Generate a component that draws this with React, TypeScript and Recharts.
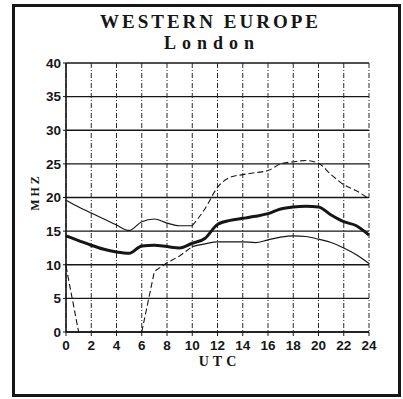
import React from 'react';
import { LineChart, Line, XAxis, YAxis, CartesianGrid } from 'recharts';

const hours = [0, 1, 2, 3, 4, 5, 6, 7, 8, 9, 10, 11, 12, 13, 14, 15, 16, 17, 18, 19, 20, 21, 22, 23, 24];
const xTicks = [0, 2, 4, 6, 8, 10, 12, 14, 16, 18, 20, 22, 24];
const yTicks = [0, 5, 10, 15, 20, 25, 30, 35, 40];

// upper curve: solid part, then dashed part
const upperSolid = [19.6, 18.6, 17.7, 16.8, 15.9, 15.1, 16.4, 16.8, 16.2, 15.8, 15.8, null, null, null, null, null, null, null, null, null, null, null, null, null, null];
const upperDashed = [null, null, null, null, null, null, null, null, null, null, 15.8, 18.3, 21.5, 23.0, 23.4, 23.7, 24.0, 25.0, 25.3, 25.5, 25.1, 23.4, 21.9, 21.0, 19.8];

// main (thick) curve
const middle = [14.3, 13.6, 12.9, 12.3, 11.9, 11.7, 12.8, 12.9, 12.7, 12.5, 13.2, 13.9, 16.0, 16.6, 16.9, 17.2, 17.6, 18.3, 18.6, 18.7, 18.6, 17.4, 16.4, 15.8, 14.4];

// lower curve: dashed pieces, then solid part
const lowerDashed = [9.8, 0, null, null, null, null, 0, 9.0, 10.3, 11.3, 12.7, null, null, null, null, null, null, null, null, null, null, null, null, null, null];
const lowerSolid = [null, null, null, null, null, null, null, null, null, null, 12.7, 13.1, 13.4, 13.4, 13.4, 13.3, 13.7, 14.1, 14.3, 14.2, 13.8, 13.3, 12.5, 11.5, 10.2];

const data = hours.map((h, i) => ({
  h,
  upperSolid: upperSolid[i],
  upperDashed: upperDashed[i],
  middle: middle[i],
  lowerDashed: lowerDashed[i],
  lowerSolid: lowerSolid[i],
}));

const INK = '#161616';
const tickStyle = { fontFamily: '"Liberation Sans", Arial, sans-serif', fontWeight: 700, fontSize: 13.5, fill: INK };
const serif = '"Liberation Serif", "DejaVu Serif", serif';

export default function App() {
  return (
    <div style={{ position: 'absolute', left: 0, top: 0, width: 403, height: 399, background: '#fff' }}>
      <div style={{ position: 'absolute', left: 12, top: 4, width: 383, height: 387, border: `3px solid ${INK}` }} />
      <div style={{ position: 'absolute', left: 0, top: 13, width: 421, textAlign: 'center', fontFamily: serif, fontWeight: 700, fontSize: 19, letterSpacing: 3, color: INK, lineHeight: '18px' }}>
        WESTERN EUROPE
      </div>
      <div style={{ position: 'absolute', left: 0, top: 35, width: 424, textAlign: 'center', fontFamily: serif, fontWeight: 700, fontSize: 18, letterSpacing: 6, color: INK, lineHeight: '16px' }}>
        London
      </div>
      <div style={{ position: 'absolute', left: 0, top: 354, width: 439, textAlign: 'center', fontFamily: serif, fontWeight: 700, fontSize: 14, letterSpacing: 4, color: INK, lineHeight: '16px' }}>
        UTC
      </div>
      <div style={{ position: 'absolute', left: 33, top: 192, width: 0, height: 0 }}>
        <div style={{ position: 'absolute', left: -30, top: -7, width: 63, textAlign: 'center', transform: 'rotate(-90deg)', fontFamily: serif, fontWeight: 700, fontSize: 12, letterSpacing: 3, color: INK, lineHeight: '14px' }}>
          MHZ
        </div>
      </div>
      <LineChart width={403} height={399} data={data} margin={{ top: 63, right: 34, bottom: 37, left: 0 }} style={{ position: 'absolute', left: 0, top: 0 }}>
        <CartesianGrid horizontal={true} vertical={false} stroke={INK} strokeWidth={1.4} />
        <CartesianGrid horizontal={false} vertical={true} stroke="#2a2a2a" strokeWidth={1} strokeDasharray="5 2 1 2" />
        <XAxis
          dataKey="h"
          type="number"
          domain={[0, 24]}
          ticks={xTicks}
          interval={0}
          height={30}
          tickSize={4}
          tickMargin={4}
          axisLine={{ stroke: INK, strokeWidth: 1.6 }}
          tickLine={{ stroke: INK }}
          tick={tickStyle}
        />
        <YAxis
          domain={[0, 40]}
          ticks={yTicks}
          interval={0}
          width={66}
          tickSize={3}
          tickMargin={2}
          axisLine={{ stroke: INK, strokeWidth: 1.6 }}
          tickLine={{ stroke: INK }}
          tick={tickStyle}
        />
        <YAxis yAxisId="r" orientation="right" width={0} tick={false} tickLine={false} axisLine={{ stroke: INK, strokeWidth: 1.4 }} />
        <Line dataKey="upperSolid" type="monotone" stroke={INK} strokeWidth={1.2} dot={false} connectNulls={false} isAnimationActive={false} />
        <Line dataKey="upperDashed" type="monotone" stroke={INK} strokeWidth={1.1} strokeDasharray="6 3" dot={false} connectNulls={false} isAnimationActive={false} />
        <Line dataKey="middle" type="monotone" stroke={INK} strokeWidth={3} dot={false} isAnimationActive={false} />
        <Line dataKey="lowerDashed" type="linear" stroke={INK} strokeWidth={1.1} strokeDasharray="6 3" dot={false} connectNulls={false} isAnimationActive={false} />
        <Line dataKey="lowerSolid" type="monotone" stroke={INK} strokeWidth={1.2} dot={false} connectNulls={false} isAnimationActive={false} />
      </LineChart>
    </div>
  );
}
